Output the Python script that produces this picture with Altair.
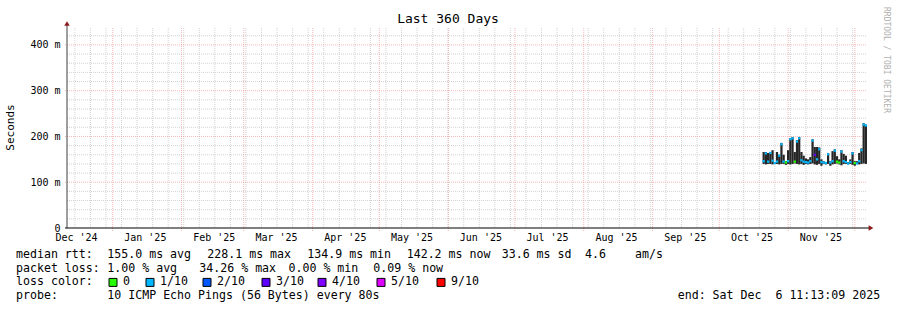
import altair as alt
import pandas as pd

# ---------------- data ----------------
first_day = "2025-10-20T11:13:09"
hi = [166, 166, 164, 166, 170, 144, 166, 160, 186, 160, 146, 170, 196, 199, 166, 192,
      199, 166, 158, 152, 150, 155, 194, 177, 177, 176, 150, 146, 144, 164, 146, 168,
      172, 157, 150, 170, 162, 158, 144, 150, 166, 146, 146, 164, 174, 229, 226]
lo = [140, 139, 140, 140, 139, 141, 140, 139, 140, 140, 138, 140, 139, 140, 141, 140,
      139, 140, 138, 140, 139, 140, 141, 139, 138, 140, 136, 140, 139, 140, 136, 139,
      140, 141, 139, 137, 140, 140, 139, 140, 138, 136, 140, 139, 140, 141, 140]
med = [146, 163, 145, 164, 147, 142, 145, 158, 183, 145, 143, 146, 194, 196, 145, 189,
       196, 148, 145, 144, 143, 146, 191, 160, 150, 172, 144, 143, 142, 161, 143, 146,
       169, 145, 143, 167, 146, 144, 141, 144, 163, 142, 141, 146, 170, 226, 224]
loss = ["1/10"] * len(hi)
for i in (10, 14, 33, 34, 41):
    loss[i] = "0"
loss[23] = "3/10"

loss_labels = ["0", "1/10", "2/10", "3/10", "4/10", "5/10", "9/10"]
loss_colors = ["#26ff00", "#00b8ff", "#0059ff", "#5e00ff", "#7e00ff", "#dd00ff", "#ff0000"]

month_starts = ["2025-%02d-01T00:00:00" % m for m in range(1, 13)]
month_labels = ["2024-12-15T12:00:00"] + ["2025-%02d-15T12:00:00" % m for m in range(1, 12)]
week_lines = [d.strftime("%Y-%m-%dT%H:%M:%S") for d in pd.date_range("2024-12-15", "2025-12-06", freq="7D")]
y_major = [100, 200, 300, 400]
y_minor = [v for v in range(20, 437, 20) if v % 100 != 0]

legend_rows = [
    [("median rtt:", 16), ("155.0 ms avg", 107.3), ("228.1 ms max", 207.3), ("134.9 ms min", 307.3),
     ("142.2 ms now", 406.7), ("33.6 ms sd", 501.7), ("4.6", 585), ("am/s", 635)],
    [("packet loss:", 16), ("1.00 % avg", 107.3), ("34.26 % max", 199.3), ("0.00 % min", 288.5),
     ("0.09 % now", 373.3)],
    [("loss color:", 16)],
    [("probe:", 16), ("10 ICMP Echo Pings (56 Bytes) every 80s", 107.3),
     ("end: Sat Dec  6 11:13:09 2025", 677.7)],
]
row_y = [255, 268.7, 282.4, 296]
square_x = [109, 146, 203, 262, 318, 377, 437]

# ---------------- layout ----------------
L, T = 67, 28
W, H = 800, 200
MONO = "DejaVu Sans Mono"

days = pd.date_range(first_day, periods=len(hi), freq="D")
df = pd.DataFrame({
    "t": [d.strftime("%Y-%m-%dT%H:%M:%S") for d in days],
    "t2": [(d + pd.Timedelta(days=1)).strftime("%Y-%m-%dT%H:%M:%S") for d in days],
    "lo": lo, "hi": hi, "med": med, "loss": loss,
})

xscale = alt.Scale(domain=[alt.DateTime(year=2024, month=12, date=11, hours=11, minutes=13, seconds=9),
                           alt.DateTime(year=2025, month=12, date=6, hours=11, minutes=13, seconds=9)])
yscale = alt.Scale(domain=[0, 437], nice=False, zero=True)

layers = []

# grid
layers.append(alt.Chart(pd.DataFrame({"v": y_minor})).mark_rule(
    color="#d2d2d2", strokeDash=[1, 1], strokeWidth=1).encode(
    y=alt.Y("v:Q", scale=yscale, title=None), x=alt.value(0), x2=alt.value(W)))
layers.append(alt.Chart(pd.DataFrame({"w": week_lines})).mark_rule(
    color="#d2d2d2", strokeDash=[1, 1], strokeWidth=1).encode(
    x=alt.X("w:T", scale=xscale, title=None), y=alt.value(0), y2=alt.value(H)))
layers.append(alt.Chart(pd.DataFrame({"v": y_major})).mark_rule(
    color="#f08a8a", strokeDash=[1, 1], strokeWidth=1, opacity=0.6).encode(
    y=alt.Y("v:Q", scale=yscale, title=None), x=alt.value(-2), x2=alt.value(W)))
layers.append(alt.Chart(pd.DataFrame({"m": month_starts})).mark_rule(
    color="#f08a8a", strokeDash=[1, 1], strokeWidth=1, opacity=0.6).encode(
    x=alt.X("m:T", scale=xscale, title=None), y=alt.value(0), y2=alt.value(H + 3)))

# smoke
layers.append(alt.Chart(df).mark_rect(color="#262626").encode(
    x=alt.X("t:T", scale=xscale, title=None,
            axis=alt.Axis(values=[alt.DateTime(year=int(s[:4]), month=int(s[5:7]), date=int(s[8:10]), hours=12)
                                  for s in month_labels],
                          format="%b '%y", ticks=False, domain=False, grid=False, labelPadding=4,
                          labelFont=MONO, labelFontSize=10, labelColor="#000000", labelFlush=False,
                          labelOverlap=False)),
    x2="t2:T",
    y=alt.Y("lo:Q", scale=yscale, title=None,
            axis=alt.Axis(values=[0, 100, 200, 300, 400],
                          labelExpr="datum.value == 0 ? '0' : datum.value + ' m'",
                          ticks=False, domain=False, grid=False, labelPadding=7,
                          labelFont=MONO, labelFontSize=10, labelColor="#000000")),
    y2="hi:Q"))

# median
layers.append(alt.Chart(df).transform_calculate(
    m1="datum.med - 2.5", m2="datum.med + 2.5").mark_rect().encode(
    x=alt.X("t:T", scale=xscale, title=None), x2="t2:T",
    y=alt.Y("m1:Q", scale=yscale, title=None), y2="m2:Q",
    color=alt.Color("loss:N", scale=alt.Scale(domain=loss_labels, range=loss_colors), legend=None)))

one = alt.Data(values=[{"a": 1}])

# axis lines and arrows
layers.append(alt.Chart(one).mark_rule(color="#404040", strokeWidth=1).encode(
    x=alt.value(0), y=alt.value(-3), y2=alt.value(H)))
layers.append(alt.Chart(one).mark_rule(color="#000000", strokeWidth=1).encode(
    x=alt.value(-2), x2=alt.value(W + 3), y=alt.value(H)))
layers.append(alt.Chart(one).mark_point(shape="triangle-up", filled=True, size=30, color="#8b1a1a", opacity=1).encode(
    x=alt.value(0), y=alt.value(-4.5)))
layers.append(alt.Chart(one).mark_point(shape="triangle-right", filled=True, size=30, color="#8b1a1a", opacity=1).encode(
    x=alt.value(W + 4), y=alt.value(H)))


def txt(s, x, y, size=11.6, color="#000000", align="left", angle=0):
    return alt.Chart(one).mark_text(text=s.replace(" ", "\u00a0"), font=MONO, fontSize=size, color=color,
                                    align=align, baseline="middle", angle=angle).encode(
        x=alt.value(x), y=alt.value(y))


layers.append(txt("Last 360 Days", 448 - L, 19 - T, size=13, align="center"))
layers.append(txt("Seconds", 11 - L, 127.5 - T, size=11, align="center", angle=270))
layers.append(txt("RRDTOOL / TOBI OETIKER", 886 - L, 60 - T, size=8, color="#b0b0b0", align="center", angle=90))

for row, yy in zip(legend_rows, row_y):
    for s, xx in row:
        layers.append(txt(s, xx - L, yy - T))

for lab, col, sx in zip(loss_labels, loss_colors, square_x):
    layers.append(alt.Chart(one).mark_rect(color=col, stroke="#000000", strokeWidth=1).encode(
        x=alt.value(sx - L), x2=alt.value(sx - L + 8),
        y=alt.value(row_y[2] - T - 4), y2=alt.value(row_y[2] - T + 4)))
    layers.append(txt(lab, sx + 14 - L, row_y[2] - T))

chart = alt.layer(*layers).properties(
    width=W, height=H,
    autosize=alt.AutoSizeParams(type="none"),
    padding={"left": L, "top": T, "right": 897 - L - W, "bottom": 310 - T - H},
    background="#ffffff",
).configure_view(stroke=None)

chart.save("out.html", embed_options={"renderer": "svg", "actions": False})
